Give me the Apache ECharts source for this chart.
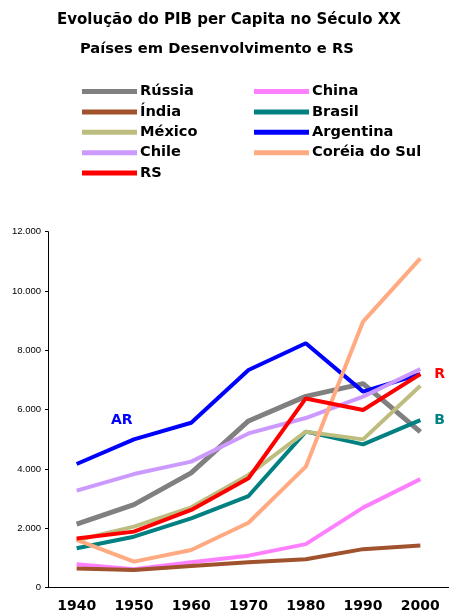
<!DOCTYPE html>
<html>
<head>
<meta charset="utf-8">
<script src="https://cdn.jsdelivr.net/npm/echarts@6/dist/echarts.min.js"></script>
<style>
  html, body { margin: 0; padding: 0; background: #fff; }
  #chart { width: 449px; height: 614px; }
</style>
</head>
<body>
<div id="chart"></div>
<script>
// dados (PIB per capita)
const anos = ['1940', '1950', '1960', '1970', '1980', '1990', '2000']
const russia = [2140, 2800, 3870, 5620, 6450, 6880, 5250]
const china = [790, 620, 860, 1080, 1470, 2700, 3660]
const india = [650, 600, 730, 860, 960, 1300, 1420]
const brasil = [1330, 1720, 2340, 3090, 5260, 4830, 5650]
const mexico = [1600, 2060, 2710, 3800, 5260, 5000, 6810]
const argentina = [4170, 5000, 5560, 7340, 8240, 6610, 7200]
const chile = [3270, 3830, 4250, 5200, 5720, 6440, 7370]
const coreia = [1610, 880, 1270, 2190, 4080, 8970, 11100]
const rs = [1660, 1890, 2620, 3690, 6380, 5990, 7200]

const chart = echarts.init(document.getElementById('chart'))
const fonte = 'DejaVu Sans'

function linha (name, data, color, extra) {
  return Object.assign({
    name: name,
    type: 'line',
    data: data,
    symbol: 'none',
    color: color,
    lineStyle: { width: 4, color: color },
    animation: false
  }, extra || {})
}

const legendaTexto = { fontFamily: fonte, fontWeight: 'bold', fontSize: 14.6, color: '#000', lineHeight: 14 }

const option = {
  backgroundColor: '#fff',
  title: [
    {
      text: 'Evolução do PIB per Capita no Século XX',
      left: 57,
      top: 13,
      padding: 0,
      textStyle: { fontFamily: fonte, fontWeight: 'bold', fontSize: 15, color: '#000' }
    },
    {
      text: 'Países em Desenvolvimento e RS',
      left: 80,
      top: 42,
      padding: 0,
      textStyle: { fontFamily: fonte, fontWeight: 'bold', fontSize: 14.7, color: '#000' }
    }
  ],
  legend: [
    {
      data: ['Rússia', 'Índia', 'México', 'Chile', 'RS'],
      orient: 'vertical',
      left: 82,
      top: 84,
      padding: 0,
      itemWidth: 55,
      itemHeight: 5,
      itemGap: 5.4,
      icon: 'rect',
      textStyle: Object.assign({ padding: [0, 0, 0, -2] }, legendaTexto)
    },
    {
      data: ['China', 'Brasil', 'Argentina', 'Coréia do Sul'],
      orient: 'vertical',
      left: 254,
      top: 84,
      padding: 0,
      itemWidth: 55,
      itemHeight: 5,
      itemGap: 5.4,
      icon: 'rect',
      textStyle: Object.assign({ padding: [0, 0, 0, -2] }, legendaTexto)
    }
  ],
  grid: {
    left: 48,
    top: 231.7,
    width: 406,
    height: 356
  },
  xAxis: {
    type: 'category',
    data: anos,
    boundaryGap: true,
    axisLine: { lineStyle: { color: '#000', width: 1 } },
    axisTick: { length: 5, lineStyle: { color: '#000' } },
    axisLabel: { fontFamily: fonte, fontWeight: 'bold', fontSize: 14, color: '#000', margin: 12 }
  },
  yAxis: {
    type: 'value',
    min: 0,
    max: 12000,
    interval: 2000,
    splitLine: { show: false },
    axisLine: { show: true, lineStyle: { color: '#000', width: 1 } },
    axisTick: { show: true, length: 3, lineStyle: { color: '#000' } },
    axisLabel: {
      fontFamily: 'Liberation Sans',
      fontSize: 9.5,
      color: '#000',
      margin: 7,
      formatter: v => v === 0 ? '0' : (v / 1000) + '.000'
    }
  },
  graphic: [
    {
      type: 'text',
      left: 111,
      top: 413,
      style: { text: 'AR', fill: '#0000ff', font: 'bold 14px "DejaVu Sans"' }
    }
  ],
  series: [
    linha('Rússia', russia, '#808080', { lineStyle: { width: 5, color: '#808080' } }),
    linha('China', china, '#ff80ff'),
    linha('Índia', india, '#a0522d'),
    linha('Brasil', brasil, '#008080', {
      endLabel: { show: true, formatter: 'B', distance: 14, color: '#008080', fontFamily: fonte, fontWeight: 'bold', fontSize: 14 }
    }),
    linha('México', mexico, '#bdbd80'),
    linha('Argentina', argentina, '#0000ff'),
    linha('Chile', chile, '#cc99ff'),
    linha('Coréia do Sul', coreia, '#ffaa80'),
    linha('RS', rs, '#ff0000', {
      endLabel: { show: true, formatter: 'R', distance: 14, color: '#ff0000', fontFamily: fonte, fontWeight: 'bold', fontSize: 14 }
    })
  ]
}

chart.setOption(option)
</script>
</body>
</html>
